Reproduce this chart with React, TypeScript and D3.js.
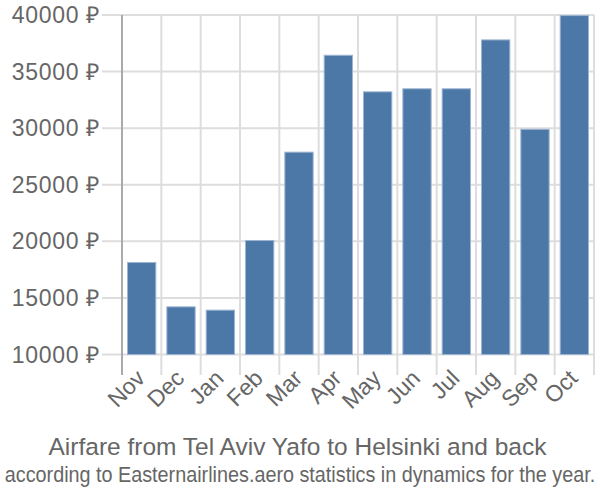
import React from "react";
import * as d3 from "d3";

const months = ["Nov", "Dec", "Jan", "Feb", "Mar", "Apr", "May", "Jun", "Jul", "Aug", "Sep", "Oct"];
const prices = [18130, 14210, 13920, 20070, 27880, 36440, 33210, 33480, 33480, 37800, 29900, 39950];
const yTicks = [10000, 15000, 20000, 25000, 30000, 35000, 40000];
const title = "Airfare from Tel Aviv Yafo to Helsinki and back";
const subtitle = "according to Easternairlines.aero statistics in dynamics for the year.";

const W = 600, H = 500;
const left = 122, right = 594, top = 15, bottom = 354.5;

export default function App() {
  const x = d3.scaleBand<string>().domain(months).range([left, right]).paddingInner(0).paddingOuter(0);
  const y = d3.scaleLinear().domain([10000, 40000]).range([bottom, top]);
  const bw = x.bandwidth();
  const barW = bw * 0.72;
  const font = "'Liberation Sans', Arial, sans-serif";
  return (
    <svg width={W} height={H} style={{ position: "absolute", left: 0, top: 0 }} fontFamily={font}>
      {yTicks.map((t) => (
        <g key={t}>
          <line x1={102} x2={right} y1={y(t)} y2={y(t)} stroke="#dddddd" strokeWidth={2} />
          <text x={100} y={y(t)} dy="0.35em" textAnchor="end" fontSize={23} letterSpacing={0.7} fill="#666">
            {t} ₽
          </text>
        </g>
      ))}
      {months.map((m) => (
        <line key={m} x1={x(m)!} x2={x(m)!} y1={top} y2={375} stroke="#dddddd" strokeWidth={2} />
      ))}
      <line x1={right} x2={right} y1={top} y2={375} stroke="#dddddd" strokeWidth={2} />
      {months.map((m, i) => (
        <rect
          key={m}
          x={x(m)! + (bw - barW) / 2}
          y={y(prices[i])}
          width={barW}
          height={bottom - y(prices[i])}
          fill="#4c78a8"
          stroke="#9db5d2"
          strokeWidth={1}
        />
      ))}
      <line x1={left} x2={left} y1={top} y2={375} stroke="#aaaaaa" strokeWidth={2} />
      {months.map((m) => {
        const cx = x(m)! + bw / 2 - 3;
        const cy = 372;
        return (
          <text
            key={m}
            x={cx}
            y={cy}
            transform={`rotate(-45 ${cx} ${cy})`}
            textAnchor="end"
            dy="0.47em"
            fontSize={23}
            fill="#666"
          >
            {m}
          </text>
        );
      })}
      <text x={297.5} y={455} textAnchor="middle" fontSize={24.5} fill="#666">
        {title}
      </text>
      <text
        x={0}
        y={0}
        transform="translate(300,482) scale(1,1.1)"
        textAnchor="middle"
        fontSize={19.8}
        fill="#666"
      >
        {subtitle}
      </text>
    </svg>
  );
}
